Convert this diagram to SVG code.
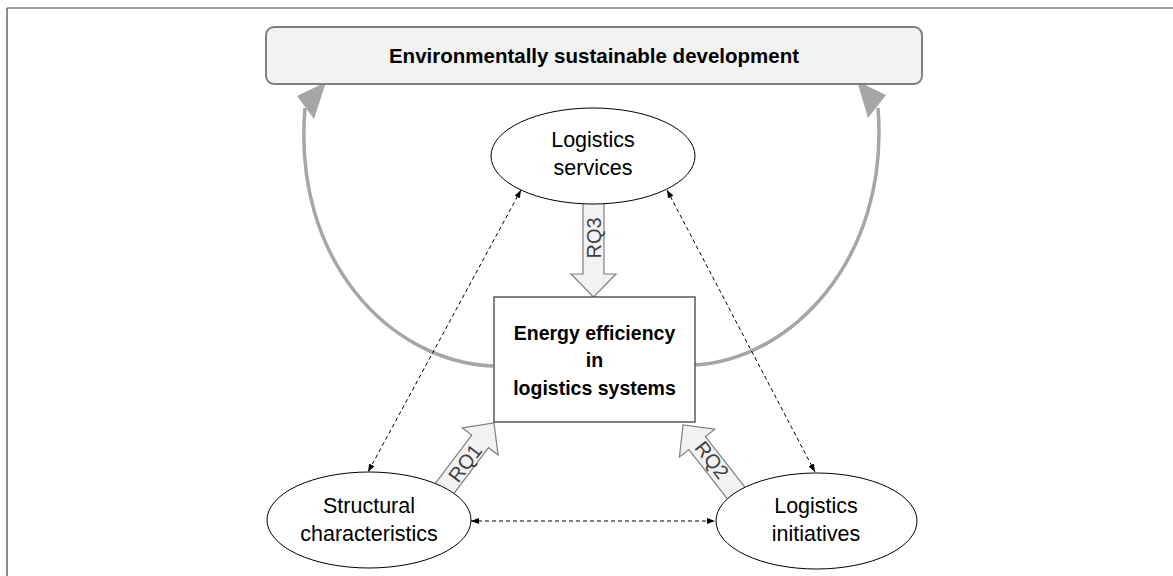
<svg xmlns="http://www.w3.org/2000/svg" width="1173" height="576" viewBox="0 0 1173 576">
<defs>
<style>
.lbl{font-family:"Liberation Sans",Arial,sans-serif;font-size:21.5px;fill:#000;text-anchor:middle}
.bold{font-family:"Liberation Sans",Arial,sans-serif;font-weight:bold;fill:#000;text-anchor:middle}
.rq{font-family:"Liberation Sans",Arial,sans-serif;font-size:20px;fill:#404040;text-anchor:middle}
.ell{fill:#fff;stroke:#000;stroke-width:1}
.blk{fill:#f2f2f2;stroke:#7f7f7f;stroke-width:1.2}
.dash{fill:none;stroke:#000;stroke-width:1;stroke-dasharray:4,3;marker-start:url(#dh);marker-end:url(#dh)}
.curve{fill:none;stroke:#a6a6a6;stroke-width:3.5}
.head{fill:#a6a6a6}
</style>
<marker id="dh" viewBox="0 0 8 6" refX="8" refY="3" markerWidth="8" markerHeight="6" markerUnits="userSpaceOnUse" orient="auto-start-reverse">
<path d="M0,0 L8,3 L0,6 z" fill="#000"/>
</marker>
</defs>
<rect width="1173" height="576" fill="#fff"/>
<g id="frame" fill="none" stroke="#404040" stroke-width="1.2">
<line x1="7" y1="8" x2="1173" y2="8"/>
<line x1="7" y1="8" x2="7" y2="576"/>
</g>
<g id="connectors">
<path class="curve" d="M493,366 C390,362 292,260 305,108"/>
<polygon class="head" points="326,82 297,96 314,119"/>
<path class="curve" d="M695,365 C790,360 890,260 878,108"/>
<polygon class="head" points="857,81 886,95 868,118"/>
<line class="dash" x1="521" y1="190" x2="368" y2="472"/>
<line class="dash" x1="667" y1="190" x2="815" y2="472"/>
<line class="dash" x1="471" y1="521" x2="715" y2="521"/>
<g id="rq3">
<path class="blk" transform="translate(593.5,196) rotate(90)" d="M0,-10.5 L78,-10.5 L78,-22.5 L101,0 L78,22.5 L78,10.5 L0,10.5 Z"/>
<text class="rq" transform="translate(593.5,238) rotate(-90)" y="7">RQ3</text>
</g>
<g id="rq1">
<path class="blk" transform="translate(439.8,494.9) rotate(-53)" d="M0,-10.5 L67,-10.5 L67,-22.5 L90,0 L67,22.5 L67,10.5 L0,10.5 Z"/>
<text class="rq" transform="translate(465,463) rotate(-53)" y="7">RQ1</text>
</g>
<g id="rq2">
<path class="blk" transform="translate(738.4,495.9) rotate(-128)" d="M0,-10.5 L67,-10.5 L67,-22.5 L90,0 L67,22.5 L67,10.5 L0,10.5 Z"/>
<text class="rq" transform="translate(712,460) rotate(52)" y="7">RQ2</text>
</g>
</g>
<g id="goal">
<rect x="266" y="27" width="656" height="57" rx="8" ry="8" fill="#f2f2f2" stroke="#7f7f7f" stroke-width="2"/>
<text class="bold" x="594" y="63" font-size="20.5">Environmentally sustainable development</text>
</g>
<g id="services">
<ellipse class="ell" cx="593" cy="156" rx="102" ry="48"/>
<text class="lbl" x="593" y="147">Logistics</text>
<text class="lbl" x="593" y="175">services</text>
</g>
<g id="efficiency">
<rect x="494" y="297" width="201" height="125" fill="#fff" stroke="#404040" stroke-width="1.3"/>
<text class="bold" x="594.5" y="340" font-size="19.5">Energy efficiency</text>
<text class="bold" x="594.5" y="367" font-size="19.5">in</text>
<text class="bold" x="594.5" y="395" font-size="19.5">logistics systems</text>
</g>
<g id="structural">
<ellipse class="ell" cx="369" cy="520" rx="102" ry="48"/>
<text class="lbl" x="369" y="513">Structural</text>
<text class="lbl" x="369" y="541">characteristics</text>
</g>
<g id="initiatives">
<ellipse class="ell" cx="816.5" cy="521" rx="100.5" ry="48"/>
<text class="lbl" x="816" y="513">Logistics</text>
<text class="lbl" x="816" y="541">initiatives</text>
</g>
</svg>
